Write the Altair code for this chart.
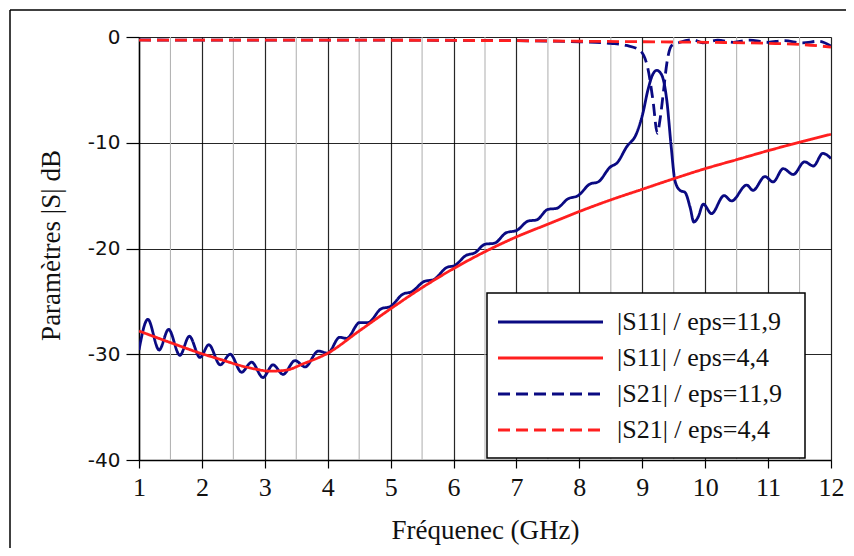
import altair as alt
import pandas as pd

# ---------------- data ----------------
s11_119_f = [1.00, 1.14, 1.32, 1.47, 1.65, 1.80, 1.97, 2.11, 2.29, 2.45, 2.63, 2.79, 2.97, 3.13,
             3.29, 3.48, 3.64, 3.85, 4.00, 4.19, 4.30, 4.51, 4.64, 4.85, 4.99, 5.20, 5.33, 5.54,
             5.68, 5.89, 6.02, 6.20, 6.34, 6.50, 6.65, 6.84, 7.00, 7.19, 7.32, 7.50, 7.64, 7.82,
             7.98, 8.17, 8.30, 8.49, 8.60, 8.75, 8.91, 9.01, 9.09, 9.17, 9.23, 9.31, 9.39, 9.46,
             9.52, 9.60, 9.68, 9.76, 9.82, 9.89, 9.97, 10.10, 10.30, 10.42, 10.66, 10.76, 10.95,
             11.08, 11.24, 11.40, 11.58, 11.72, 11.87, 12.00]
s11_119_db = [-29.6, -26.7, -29.6, -27.65, -30.1, -28.3, -30.3, -29.1, -31.0, -30.0, -31.7, -30.75,
              -32.2, -31.0, -31.9, -30.6, -31.2, -29.7, -29.9, -28.4, -28.5, -27.0, -27.0, -25.7,
              -25.5, -24.3, -24.1, -23.1, -22.95, -21.8, -21.6, -20.65, -20.4, -19.6, -19.5, -18.5,
              -18.3, -17.4, -17.3, -16.3, -16.2, -15.3, -15.0, -13.9, -13.7, -12.3, -11.9, -10.4,
              -9.1, -7.2, -5.0, -3.5, -3.15, -3.6, -6.0, -10.4, -13.6, -14.5, -14.7, -16.1, -17.5,
              -17.0, -15.8, -16.7, -15.0, -15.5, -14.0, -14.5, -13.2, -13.7, -12.45, -13.0, -11.8,
              -12.2, -11.0, -11.5]

s11_44_f = [1.0, 1.5, 2.0, 2.3, 2.6, 2.85, 3.08, 3.34, 3.61, 4.0, 4.5, 5.0, 5.5, 6.0, 6.5, 7.0,
            7.5, 8.0, 8.5, 9.0, 9.5, 10.0, 10.5, 11.0, 11.5, 12.0]
s11_44_db = [-27.8, -28.9, -29.95, -30.5, -31.05, -31.4, -31.6, -31.5, -30.9, -29.9, -27.8, -25.7,
             -23.7, -21.9, -20.3, -18.9, -17.7, -16.5, -15.4, -14.4, -13.4, -12.45, -11.6, -10.75,
             -9.95, -9.2]

s21_119_f = [1.0, 3.0, 5.0, 7.0, 8.0, 8.5, 8.75, 8.96, 9.09, 9.17, 9.24, 9.28, 9.34, 9.39, 9.47,
             9.6, 9.81, 9.96, 10.2, 10.45, 10.7, 11.0, 11.25, 11.55, 11.8, 12.0]
s21_119_db = [-0.28, -0.3, -0.3, -0.35, -0.45, -0.6, -0.8, -1.26, -3.0, -6.0, -9.1, -7.9, -5.0,
              -2.5, -0.8, -0.5, -0.25, -0.55, -0.3, -0.5, -0.3, -0.5, -0.35, -0.55, -0.4, -0.85]

s21_44_f = [1.0, 4.0, 7.0, 8.0, 9.0, 10.0, 11.0, 11.5, 12.0]
s21_44_db = [-0.3, -0.3, -0.35, -0.4, -0.45, -0.5, -0.6, -0.7, -0.95]

series_names = ["|S11| / eps=11,9", "|S11| / eps=4,4", "|S21| / eps=11,9", "|S21| / eps=4,4"]
series_colors = ["#0a0a82", "#ff1f1f", "#0a0a82", "#ff1f1f"]
series_dash = [[1, 0], [1, 0], [12, 6], [12, 6]]

x_ticks = [1, 2, 3, 4, 5, 6, 7, 8, 9, 10, 11, 12]
x_minor = [1.5, 2.5, 3.5, 4.5, 5.5, 6.5, 7.5, 8.5, 9.5, 10.5, 11.5]
y_ticks = [-40, -30, -20, -10, 0]

# ---------------- tables ----------------
rows = []
for name, fs, ds in zip(series_names,
                        [s11_119_f, s11_44_f, s21_119_f, s21_44_f],
                        [s11_119_db, s11_44_db, s21_119_db, s21_44_db]):
    for i, (f, d) in enumerate(zip(fs, ds)):
        rows.append({"series": name, "f": f, "db": d, "i": i})
df = pd.DataFrame(rows)
minor_df = pd.DataFrame({"f": x_minor})
legend_df = pd.DataFrame({"series": series_names, "row": list(range(len(series_names)))})
one_df = pd.DataFrame({"k": [0]})

W, H = 692, 423

xscale = alt.Scale(domain=[1, 12], nice=False, zero=False)
yscale = alt.Scale(domain=[-40, 0], nice=False, zero=False)
color_scale = alt.Scale(domain=series_names, range=series_colors)
dash_scale = alt.Scale(domain=series_names, range=series_dash)

minor = alt.Chart(minor_df).mark_rule(color="#b4b4b4", strokeWidth=1.1).encode(
    x=alt.X("f:Q", scale=xscale)
)

lines = alt.Chart(df).mark_line(strokeWidth=2.8, interpolate="monotone", clip=True).encode(
    x=alt.X("f:Q", scale=xscale,
            axis=alt.Axis(values=x_ticks, title="Fréquenec (GHz)", grid=True,
                          gridColor="#000000", gridOpacity=0.85, gridWidth=1.2,
                          domainColor="#000000", domainWidth=1.5,
                          tickColor="#000000", tickSize=8, tickWidth=1.2,
                          labelFont="Liberation Serif", labelFontSize=26, labelColor="#111111",
                          labelPadding=6, labelBaseline="top", labelOverlap=False,
                          labelExpr="'' + datum.value", labelFlush=False,
                          titleFont="Liberation Serif", titleFontSize=27, titleFontWeight="normal",
                          titleColor="#111111", titleX=346, titleY=70, titleBaseline="middle")),
    y=alt.Y("db:Q", scale=yscale,
            axis=alt.Axis(values=y_ticks, title="Paramètres |S| dB", grid=True,
                          gridColor="#000000", gridOpacity=0.85, gridWidth=1.2,
                          domainColor="#000000", domainWidth=1.5,
                          tickColor="#000000", tickSize=13, tickWidth=1.2,
                          labelFont="DejaVu Sans", labelFontSize=20, labelColor="#111111",
                          labelPadding=6, labelExpr="'' + datum.value", labelOverlap=False,
                          titleFont="Liberation Serif", titleFontSize=27, titleFontWeight="normal",
                          titleColor="#111111", titleX=-88, titleY=208, titleAngle=270,
                          titleBaseline="middle", titleAlign="center")),
    color=alt.Color("series:N", scale=color_scale, legend=None),
    strokeDash=alt.StrokeDash("series:N", scale=dash_scale, legend=None),
    order="i:Q",
)

# ---------------- hand-made legend box ----------------
LX, LY, LW, LH = 348, 256, 318, 165
ROW0, ROWSTEP = 285, 36

legend_box = alt.Chart(one_df).mark_rect(fill="#ffffff", stroke="#000000", strokeWidth=1.5,
                                          clip=False).encode(
    x=alt.value(LX), x2=alt.value(LX + LW), y=alt.value(LY), y2=alt.value(LY + LH)
)

legend_base = alt.Chart(legend_df).transform_calculate(
    ly=f"{ROW0} + datum.row * {ROWSTEP}"
)

legend_lines = legend_base.mark_rule(strokeWidth=3, clip=False).encode(
    x=alt.value(LX + 11), x2=alt.value(LX + 116),
    y=alt.Y("ly:Q", scale=None),
    color=alt.Color("series:N", scale=color_scale, legend=None),
    strokeDash=alt.StrokeDash("series:N", scale=dash_scale, legend=None),
)

legend_text = legend_base.mark_text(align="left", baseline="middle", font="Liberation Serif",
                                    fontSize=26, color="#111111", clip=False).encode(
    x=alt.value(LX + 130),
    y=alt.Y("ly:Q", scale=None),
    text="series:N",
)

frame_left = alt.Chart(one_df).mark_rule(color="#000000", strokeWidth=1.5, clip=False).encode(
    x=alt.value(-129), y=alt.value(-27), y2=alt.value(700)
)
frame_top = alt.Chart(one_df).mark_rule(color="#000000", strokeWidth=1.5, clip=False).encode(
    x=alt.value(-129), x2=alt.value(900), y=alt.value(-27)
)

chart = alt.layer(minor, lines, legend_box, legend_lines, legend_text,
                  frame_left, frame_top).properties(
    width=W, height=H,
    autosize=alt.AutoSizeParams(type="none"),
    padding={"left": 131, "top": 29, "right": 15, "bottom": 88},
).configure_view(stroke="#333333", strokeWidth=1.5).configure(background="#ffffff")

chart.save("out.html", embed_options={"renderer": "svg", "actions": False})
